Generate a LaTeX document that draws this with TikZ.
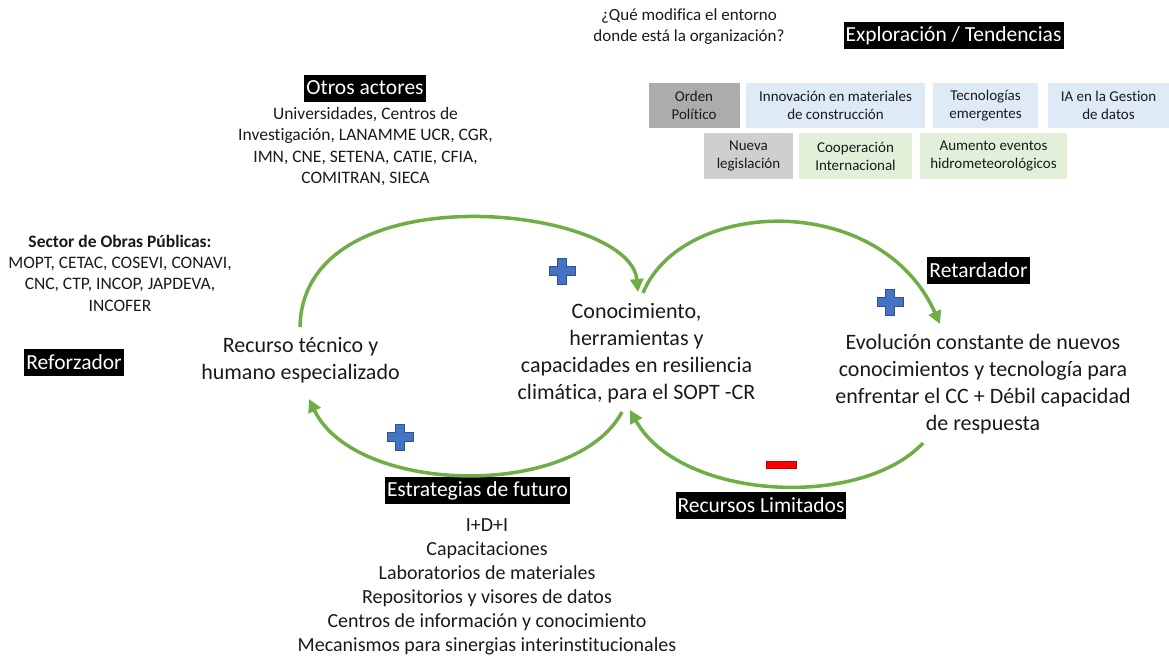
\documentclass[tikz,border=0pt]{standalone}
\usepackage{fontspec}
\setmainfont{Carlito}[Ligatures=NoCommon]
\usetikzlibrary{arrows.meta}
\definecolor{loopgreen}{HTML}{70AD47}
\definecolor{plusblue}{HTML}{4472C4}
\definecolor{plusedge}{HTML}{2F528F}
\definecolor{minusred}{HTML}{FF0000}
\definecolor{minusedge}{HTML}{C00000}
\definecolor{graydark}{HTML}{AEABAB}
\definecolor{graylight}{HTML}{D0CECE}
\definecolor{bluelight}{HTML}{DEEBF7}
\definecolor{greenlight}{HTML}{E2F0D9}
\definecolor{ink}{HTML}{1A1A1A}
\begin{document}
\begin{tikzpicture}[x=1pt,y=-1pt,
  tag/.style={fill=black,text=white,inner xsep=2pt,inner ysep=0pt,minimum height=27pt,
    font=\fontsize{21.5}{26}\selectfont},
  var/.style={align=center,text=ink,inner sep=0pt,font=\fontsize{22}{27}\selectfont},
  note/.style={align=center,text=ink,inner sep=0pt,font=\fontsize{17.5}{21.3}\selectfont},
  trend/.style={align=center,text=ink,inner sep=0pt,font=\fontsize{15}{18}\selectfont},
  link/.style={draw=loopgreen,line width=3.5pt,-{Triangle[length=13pt,width=13pt]}},
  plussign/.pic={\filldraw[fill=plusblue,draw=plusedge,line width=0.7pt]
    (-4.5,-13) -- (4.5,-13) -- (4.5,-4.5) -- (13,-4.5) -- (13,4.5) -- (4.5,4.5) --
    (4.5,13) -- (-4.5,13) -- (-4.5,4.5) -- (-13,4.5) -- (-13,-4.5) -- (-4.5,-4.5) -- cycle;},
  minussign/.pic={\filldraw[fill=minusred,draw=minusedge,line width=0.7pt]
    (-15,-3.5) rectangle (15,3.5);}
]
\useasboundingbox (0,0) rectangle (1169,657);

% header question and trends
\node[note,font=\fontsize{17}{21}\selectfont] (q) at (689,27)
  {¿Qué modifica el entorno\\donde está la organización?};
\node[tag] (expl) at (953.5,35.5) {Exploración / Tendencias};

\node[trend,fill=graydark,minimum width=91pt,minimum height=45pt] (t1) at (694,105.5) {Orden\\Político};
\node[trend,fill=bluelight,minimum width=179pt,minimum height=45pt] (t2) at (835.5,105.5) {Innovación en materiales\\de construcción};
\node[trend,fill=bluelight,minimum width=105pt,minimum height=45pt] (t3) at (985.5,105.5) {Tecnologías\\emergentes};
\node[trend,fill=bluelight,minimum width=121pt,minimum height=45pt] (t4) at (1108.5,105.5) {IA en la Gestion\\de datos};
\node[trend,fill=graylight,minimum width=89pt,minimum height=46pt] (t5) at (748.5,156) {Nueva\\legislación};
\node[trend,fill=greenlight,minimum width=113pt,minimum height=46pt] (t6) at (855.5,156) {Cooperación\\Internacional};
\node[trend,fill=greenlight,minimum width=147pt,minimum height=46pt] (t7) at (993.5,156) {Aumento eventos\\hidrometeorológicos};

% actors
\node[tag] (otros) at (365,88) {Otros actores};
\node[note] (otrosl) at (365.5,146.5)
  {Universidades, Centros de\\Investigación, LANAMME UCR, CGR,\\IMN, CNE, SETENA, CATIE, CFIA,\\COMITRAN, SIECA};
\node[note] (sector) at (120,273)
  {\textbf{Sector de Obras Públicas:}\\MOPT, CETAC, COSEVI, CONAVI,\\CNC, CTP, INCOP, JAPDEVA,\\INCOFER};

% loop labels
\node[tag] (refo) at (74,362) {Reforzador};
\node[tag] (reta) at (978.5,270) {Retardador};
\node[tag] (estr) at (477.5,490.5) {Estrategias de futuro};
\node[tag] (recl) at (761,505.5) {Recursos Limitados};

% variables
\node[var] (rec) at (300.5,360) {Recurso técnico y\\humano especializado};
\node[var] (con) at (636.5,353.5) {Conocimiento,\\herramientas y\\capacidades en resiliencia\\climática, para el SOPT -CR};
\node[var] (evo) at (983,384.5) {Evolución constante de nuevos\\conocimientos y tecnología para\\enfrentar el CC + Débil capacidad\\de respuesta};

% strategy list
\node[align=center,text=ink,inner sep=0pt,font=\fontsize{20}{24}\selectfont] (list) at (487,587)
  {I+D+I\\Capacitaciones\\Laboratorios de materiales\\Repositorios y visores de datos\\Centros de información y conocimiento\\Mecanismos para sinergias interinstitucionales};

% loop end points
\coordinate (recTop) at (300,327);
\coordinate (conTopIn) at (638,292);
\coordinate (conTopOut) at (643,293);
\coordinate (evoTop) at (940,324);
\coordinate (conBotOut) at (622,412);
\coordinate (recBot) at (309,399);
\coordinate (evoBot) at (923,443);
\coordinate (conBotIn) at (630,410);

% causal links
\draw[link] (recTop) .. controls (303,170) and (630,205) .. (conTopIn);
\draw[link] (conTopOut) .. controls (682,198) and (880,190) .. (evoTop);
\draw[link] (conBotOut) .. controls (575,500) and (355,495) .. (recBot);
\draw[link] (evoBot) .. controls (860,510) and (680,500) .. (conBotIn);

% polarity signs
\pic at (562,271) {plussign};
\pic at (890,302) {plussign};
\pic at (400,437) {plussign};
\pic at (781,465) {minussign};
\end{tikzpicture}
\end{document}
